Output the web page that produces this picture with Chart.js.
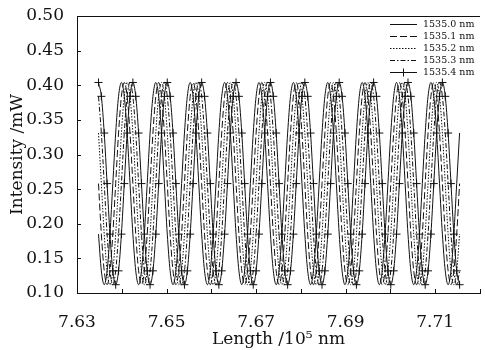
<!DOCTYPE html>
<html>
<head>
<meta charset="utf-8">
<script src="https://cdn.jsdelivr.net/npm/chart.js@4.4.1/dist/chart.umd.min.js"></script>
<style>
    html, body { margin: 0; padding: 0; background: #fff; }
    canvas { display: block; }
</style>
</head>
<body>
<canvas id="chart" width="485" height="350"></canvas>
<script>
// Длина (x10^5 nm), общая сетка отсчётов для всех кривых
const lengths = [
    7.63480, 7.63544, 7.63608, 7.63672, 7.63736, 7.63800, 7.63864, 7.63928, 7.63992, 7.64056, 7.64120, 7.64184,
    7.64248, 7.64312, 7.64376, 7.64440, 7.64504, 7.64568, 7.64632, 7.64696, 7.64760, 7.64824, 7.64888, 7.64952,
    7.65016, 7.65080, 7.65144, 7.65208, 7.65272, 7.65336, 7.65400, 7.65464, 7.65528, 7.65592, 7.65656, 7.65720,
    7.65784, 7.65848, 7.65912, 7.65976, 7.66040, 7.66104, 7.66168, 7.66232, 7.66296, 7.66360, 7.66424, 7.66488,
    7.66552, 7.66616, 7.66680, 7.66744, 7.66808, 7.66872, 7.66936, 7.67000, 7.67064, 7.67128, 7.67192, 7.67256,
    7.67320, 7.67384, 7.67448, 7.67512, 7.67576, 7.67640, 7.67704, 7.67768, 7.67832, 7.67896, 7.67960, 7.68024,
    7.68088, 7.68152, 7.68216, 7.68280, 7.68344, 7.68408, 7.68472, 7.68536, 7.68600, 7.68664, 7.68728, 7.68792,
    7.68856, 7.68920, 7.68984, 7.69048, 7.69112, 7.69176, 7.69240, 7.69304, 7.69368, 7.69432, 7.69496, 7.69560,
    7.69624, 7.69688, 7.69752, 7.69816, 7.69880, 7.69944, 7.70008, 7.70072, 7.70136, 7.70200, 7.70264, 7.70328,
    7.70392, 7.70456, 7.70520, 7.70584, 7.70648, 7.70712, 7.70776, 7.70840, 7.70904, 7.70968, 7.71032, 7.71096,
    7.71160, 7.71224, 7.71288, 7.71352, 7.71416, 7.71480, 7.71544
];

const seriesNames = ['1535.0 nm', '1535.1 nm', '1535.2 nm', '1535.3 nm', '1535.4 nm'];

// Интенсивность (mW)
const intensity0 = [
    0.185, 0.132, 0.112, 0.132, 0.185, 0.258, 0.331, 0.384, 0.404, 0.384, 0.331, 0.258,
    0.185, 0.132, 0.112, 0.132, 0.185, 0.258, 0.331, 0.384, 0.404, 0.384, 0.331, 0.258,
    0.185, 0.132, 0.112, 0.132, 0.185, 0.258, 0.331, 0.384, 0.404, 0.384, 0.331, 0.258,
    0.185, 0.132, 0.112, 0.132, 0.185, 0.258, 0.331, 0.384, 0.404, 0.384, 0.331, 0.258,
    0.185, 0.132, 0.112, 0.132, 0.185, 0.258, 0.331, 0.384, 0.404, 0.384, 0.331, 0.258,
    0.185, 0.132, 0.112, 0.132, 0.185, 0.258, 0.331, 0.384, 0.404, 0.384, 0.331, 0.258,
    0.185, 0.132, 0.112, 0.132, 0.185, 0.258, 0.331, 0.384, 0.404, 0.384, 0.331, 0.258,
    0.185, 0.132, 0.112, 0.132, 0.185, 0.258, 0.331, 0.384, 0.404, 0.384, 0.331, 0.258,
    0.185, 0.132, 0.112, 0.132, 0.185, 0.258, 0.331, 0.384, 0.404, 0.384, 0.331, 0.258,
    0.185, 0.132, 0.112, 0.132, 0.185, 0.258, 0.331, 0.384, 0.404, 0.384, 0.331, 0.258,
    0.185, 0.132, 0.112, 0.132, 0.185, 0.258, 0.331
];
const intensity1 = [
    0.258, 0.185, 0.132, 0.112, 0.132, 0.185, 0.258, 0.331, 0.384, 0.404, 0.384, 0.331,
    0.258, 0.185, 0.132, 0.112, 0.132, 0.185, 0.258, 0.331, 0.384, 0.404, 0.384, 0.331,
    0.258, 0.185, 0.132, 0.112, 0.132, 0.185, 0.258, 0.331, 0.384, 0.404, 0.384, 0.331,
    0.258, 0.185, 0.132, 0.112, 0.132, 0.185, 0.258, 0.331, 0.384, 0.404, 0.384, 0.331,
    0.258, 0.185, 0.132, 0.112, 0.132, 0.185, 0.258, 0.331, 0.384, 0.404, 0.384, 0.331,
    0.258, 0.185, 0.132, 0.112, 0.132, 0.185, 0.258, 0.331, 0.384, 0.404, 0.384, 0.331,
    0.258, 0.185, 0.132, 0.112, 0.132, 0.185, 0.258, 0.331, 0.384, 0.404, 0.384, 0.331,
    0.258, 0.185, 0.132, 0.112, 0.132, 0.185, 0.258, 0.331, 0.384, 0.404, 0.384, 0.331,
    0.258, 0.185, 0.132, 0.112, 0.132, 0.185, 0.258, 0.331, 0.384, 0.404, 0.384, 0.331,
    0.258, 0.185, 0.132, 0.112, 0.132, 0.185, 0.258, 0.331, 0.384, 0.404, 0.384, 0.331,
    0.258, 0.185, 0.132, 0.112, 0.132, 0.185, 0.258
];
const intensity2 = [
    0.331, 0.258, 0.185, 0.132, 0.112, 0.132, 0.185, 0.258, 0.331, 0.384, 0.404, 0.384,
    0.331, 0.258, 0.185, 0.132, 0.112, 0.132, 0.185, 0.258, 0.331, 0.384, 0.404, 0.384,
    0.331, 0.258, 0.185, 0.132, 0.112, 0.132, 0.185, 0.258, 0.331, 0.384, 0.404, 0.384,
    0.331, 0.258, 0.185, 0.132, 0.112, 0.132, 0.185, 0.258, 0.331, 0.384, 0.404, 0.384,
    0.331, 0.258, 0.185, 0.132, 0.112, 0.132, 0.185, 0.258, 0.331, 0.384, 0.404, 0.384,
    0.331, 0.258, 0.185, 0.132, 0.112, 0.132, 0.185, 0.258, 0.331, 0.384, 0.404, 0.384,
    0.331, 0.258, 0.185, 0.132, 0.112, 0.132, 0.185, 0.258, 0.331, 0.384, 0.404, 0.384,
    0.331, 0.258, 0.185, 0.132, 0.112, 0.132, 0.185, 0.258, 0.331, 0.384, 0.404, 0.384,
    0.331, 0.258, 0.185, 0.132, 0.112, 0.132, 0.185, 0.258, 0.331, 0.384, 0.404, 0.384,
    0.331, 0.258, 0.185, 0.132, 0.112, 0.132, 0.185, 0.258, 0.331, 0.384, 0.404, 0.384,
    0.331, 0.258, 0.185, 0.132, 0.112, 0.132, 0.185
];
const intensity3 = [
    0.384, 0.331, 0.258, 0.185, 0.132, 0.112, 0.132, 0.185, 0.258, 0.331, 0.384, 0.404,
    0.384, 0.331, 0.258, 0.185, 0.132, 0.112, 0.132, 0.185, 0.258, 0.331, 0.384, 0.404,
    0.384, 0.331, 0.258, 0.185, 0.132, 0.112, 0.132, 0.185, 0.258, 0.331, 0.384, 0.404,
    0.384, 0.331, 0.258, 0.185, 0.132, 0.112, 0.132, 0.185, 0.258, 0.331, 0.384, 0.404,
    0.384, 0.331, 0.258, 0.185, 0.132, 0.112, 0.132, 0.185, 0.258, 0.331, 0.384, 0.404,
    0.384, 0.331, 0.258, 0.185, 0.132, 0.112, 0.132, 0.185, 0.258, 0.331, 0.384, 0.404,
    0.384, 0.331, 0.258, 0.185, 0.132, 0.112, 0.132, 0.185, 0.258, 0.331, 0.384, 0.404,
    0.384, 0.331, 0.258, 0.185, 0.132, 0.112, 0.132, 0.185, 0.258, 0.331, 0.384, 0.404,
    0.384, 0.331, 0.258, 0.185, 0.132, 0.112, 0.132, 0.185, 0.258, 0.331, 0.384, 0.404,
    0.384, 0.331, 0.258, 0.185, 0.132, 0.112, 0.132, 0.185, 0.258, 0.331, 0.384, 0.404,
    0.384, 0.331, 0.258, 0.185, 0.132, 0.112, 0.132
];
const intensity4 = [
    0.404, 0.384, 0.331, 0.258, 0.185, 0.132, 0.112, 0.132, 0.185, 0.258, 0.331, 0.384,
    0.404, 0.384, 0.331, 0.258, 0.185, 0.132, 0.112, 0.132, 0.185, 0.258, 0.331, 0.384,
    0.404, 0.384, 0.331, 0.258, 0.185, 0.132, 0.112, 0.132, 0.185, 0.258, 0.331, 0.384,
    0.404, 0.384, 0.331, 0.258, 0.185, 0.132, 0.112, 0.132, 0.185, 0.258, 0.331, 0.384,
    0.404, 0.384, 0.331, 0.258, 0.185, 0.132, 0.112, 0.132, 0.185, 0.258, 0.331, 0.384,
    0.404, 0.384, 0.331, 0.258, 0.185, 0.132, 0.112, 0.132, 0.185, 0.258, 0.331, 0.384,
    0.404, 0.384, 0.331, 0.258, 0.185, 0.132, 0.112, 0.132, 0.185, 0.258, 0.331, 0.384,
    0.404, 0.384, 0.331, 0.258, 0.185, 0.132, 0.112, 0.132, 0.185, 0.258, 0.331, 0.384,
    0.404, 0.384, 0.331, 0.258, 0.185, 0.132, 0.112, 0.132, 0.185, 0.258, 0.331, 0.384,
    0.404, 0.384, 0.331, 0.258, 0.185, 0.132, 0.112, 0.132, 0.185, 0.258, 0.331, 0.384,
    0.404, 0.384, 0.331, 0.258, 0.185, 0.132, 0.112
];

const xTicksLabelled = ['7.63', '7.65', '7.67', '7.69', '7.71'];
const yTickLabels = ['0.10', '0.15', '0.20', '0.25', '0.30', '0.35', '0.40', '0.45', '0.50'];

document.addEventListener('DOMContentLoaded', () => {
    const FONT = '"DejaVu Serif", "Liberation Serif", serif';
    const INK = '#111';
    const allSeries = [intensity0, intensity1, intensity2, intensity3, intensity4];
    const dashes = [[], [7, 3], [1.5, 1.5], [5, 2, 1.5, 2], []];

    const datasets = allSeries.map((vals, k) => ({
        label: seriesNames[k],
        data: lengths.map((x, i) => ({ x: x, y: vals[i] })),
        borderColor: INK,
        borderWidth: 1,
        borderDash: dashes[k],
        cubicInterpolationMode: 'monotone',
        pointStyle: 'cross',
        pointRadius: k === 4 ? 4 : 0,
        pointBorderColor: INK,
        pointBorderWidth: 1,
        fill: false
    }));

    // Рамка сверху, внутренние засечки и легенда
    const framePlugin = {
        id: 'frame',
        afterDraw(chart) {
            const ctx = chart.ctx;
            const a = chart.chartArea;
            const xs = chart.scales.x;
            const ys = chart.scales.y;
            ctx.save();
            ctx.strokeStyle = INK;
            ctx.lineWidth = 1;
            ctx.beginPath();
            ctx.moveTo(a.left, a.top + 0.5);
            ctx.lineTo(a.right, a.top + 0.5);
            xs.ticks.forEach(t => {
                const px = Math.round(xs.getPixelForValue(t.value)) + 0.5;
                ctx.moveTo(px, a.bottom);
                ctx.lineTo(px, a.bottom - 4);
            });
            ys.ticks.forEach(t => {
                const py = Math.round(ys.getPixelForValue(t.value)) + 0.5;
                ctx.moveTo(a.left, py);
                ctx.lineTo(a.left + 4, py);
            });
            ctx.stroke();

            // Легенда
            const lx = a.right - 90;
            ctx.font = '9.5px ' + FONT;
            ctx.fillStyle = INK;
            ctx.textBaseline = 'middle';
            chart.data.datasets.forEach((ds, k) => {
                const ly = a.top + 8.5 + k * 12;
                ctx.beginPath();
                ctx.setLineDash(ds.borderDash);
                ctx.moveTo(lx, ly);
                ctx.lineTo(lx + 27, ly);
                ctx.stroke();
                ctx.setLineDash([]);
                if (k === 4) {
                    ctx.beginPath();
                    ctx.moveTo(lx + 13.5, ly - 4);
                    ctx.lineTo(lx + 13.5, ly + 4);
                    ctx.stroke();
                }
                ctx.fillText(ds.label, lx + 33, ly);
            });
            ctx.restore();
        }
    };

    new Chart(document.getElementById('chart'), {
        type: 'line',
        data: { datasets: datasets },
        options: {
            responsive: false,
            animation: false,
            events: [],
            layout: { padding: { top: 16, right: 0, left: 0, bottom: 0 } },
            plugins: { legend: { display: false }, tooltip: { enabled: false } },
            scales: {
                x: {
                    type: 'linear',
                    min: 7.63,
                    max: 7.72,
                    afterFit: (scale) => { scale.height = 57; scale.paddingRight = 0; },
                    grid: { display: false },
                    border: { display: true, color: INK, width: 1 },
                    ticks: {
                        stepSize: 0.01,
                        padding: 11,
                        maxRotation: 0,
                        autoSkip: false,
                        color: INK,
                        font: { family: FONT, size: 17 },
                        callback: (v) => {
                            const s = v.toFixed(2);
                            return xTicksLabelled.includes(s) ? s : '';
                        }
                    },
                    title: {
                        display: true,
                        text: 'Length /10⁵ nm',
                        color: INK,
                        font: { family: FONT, size: 17 },
                        padding: { top: 3, bottom: 0 }
                    }
                },
                y: {
                    min: 0.10,
                    max: 0.50,
                    afterFit: (scale) => { scale.width = 77; },
                    grid: { display: false },
                    border: { display: true, color: INK, width: 1 },
                    ticks: {
                        stepSize: 0.05,
                        padding: 5,
                        color: INK,
                        font: { family: FONT, size: 17 },
                        callback: (v) => {
                            const s = v.toFixed(2);
                            return yTickLabels.includes(s) ? s : '';
                        }
                    },
                    title: {
                        display: true,
                        text: 'Intensity /mW',
                        color: INK,
                        font: { family: FONT, size: 17 },
                        padding: { top: 7, bottom: 0 }
                    }
                }
            }
        },
        plugins: [framePlugin]
    });
});
</script>
</body>
</html>
